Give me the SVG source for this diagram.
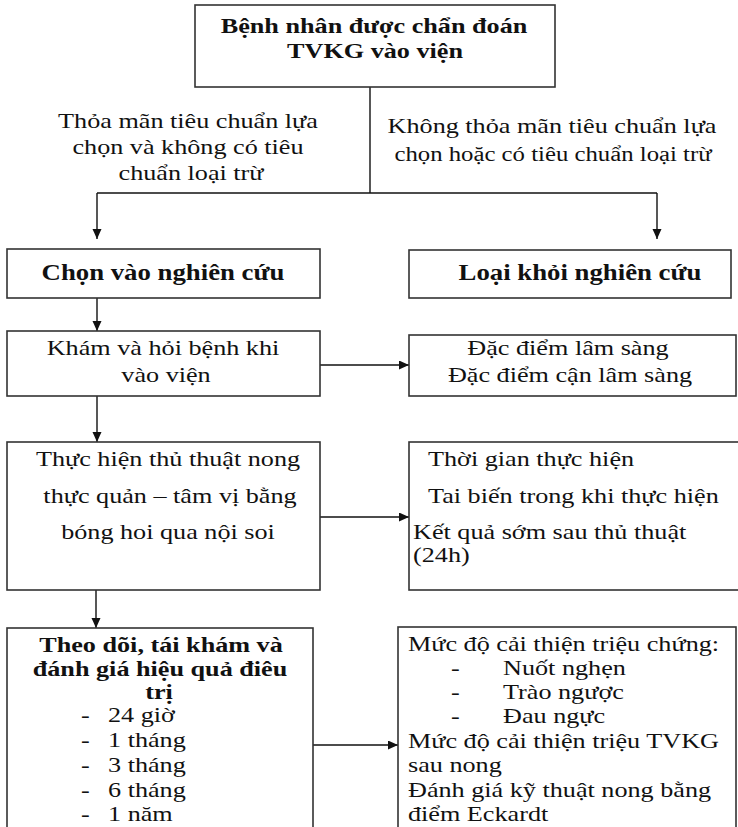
<svg xmlns="http://www.w3.org/2000/svg" width="738" height="827" viewBox="0 0 738 827">
<defs>
<marker id="ah" markerUnits="userSpaceOnUse" markerWidth="10" markerHeight="10" refX="10" refY="4.5" orient="auto">
<path d="M0,0 L10,4.5 L0,9 z" fill="#111"/>
</marker>
<style>
.box{fill:#fff;stroke:#333;stroke-width:1.6}
.c{fill:none;stroke:#111;stroke-width:1.4}
.a{marker-end:url(#ah)}
text{font-family:"Liberation Serif","Times New Roman",serif;font-size:22px;fill:#111}
.b{font-weight:bold}
.m{text-anchor:middle}
</style>
</defs>
<rect width="738" height="827" fill="#fff"/>

<g id="connectors">
<path class="c" d="M370,87 V193"/>
<path class="c" d="M97,193 H657"/>
<path class="c a" d="M97,193 V239"/>
<path class="c a" d="M657,193 V239"/>
<path class="c a" d="M97,298 V331"/>
<path class="c a" d="M320,365 H409"/>
<path class="c a" d="M97,396 V442"/>
<path class="c a" d="M320,517 H409"/>
<path class="c a" d="M96,590 V628"/>
<path class="c a" d="M313,745 H398"/>
</g>

<g id="n_start">
<rect class="box" x="195" y="5" width="360" height="82"/>
<text class="b m" transform="matrix(1.19 0 0 1 374 33)">Bệnh nhân được chẩn đoán</text>
<text class="b m" transform="matrix(1.19 0 0 1 375 58)">TVKG vào viện</text>
</g>

<g id="lbl_yes">
<text class="m" transform="matrix(1.19 0 0 1 188 128)">Thỏa mãn tiêu chuẩn lựa</text>
<text class="m" transform="matrix(1.19 0 0 1 188 154)">chọn và không có tiêu</text>
<text class="m" transform="matrix(1.19 0 0 1 191 180)">chuẩn loại trừ</text>
</g>

<g id="lbl_no">
<text class="m" transform="matrix(1.19 0 0 1 552 133)">Không thỏa mãn tiêu chuẩn lựa</text>
<text class="m" style="font-size:20.8px" transform="matrix(1.19 0 0 1 553 161)">chọn hoặc có tiêu chuẩn loại trừ</text>
</g>

<g id="n_chon">
<rect class="box" x="7" y="249" width="313" height="49"/>
<text class="b m" style="font-size:22.5px" transform="matrix(1.19 0 0 1 163 280)">Chọn vào nghiên cứu</text>
</g>

<g id="n_loai">
<rect class="box" x="409" y="250" width="322" height="48"/>
<text class="b m" style="font-size:22.5px" transform="matrix(1.19 0 0 1 580 280)">Loại khỏi nghiên cứu</text>
</g>

<g id="n_kham">
<rect class="box" x="7" y="331" width="313" height="65"/>
<text class="m" transform="matrix(1.19 0 0 1 163 355)">Khám và hỏi bệnh khi</text>
<text class="m" transform="matrix(1.19 0 0 1 166 382)">vào viện</text>
</g>

<g id="n_dacdiem">
<rect class="box" x="409" y="335" width="327" height="61"/>
<text class="m" transform="matrix(1.19 0 0 1 568 355)">Đặc điểm lâm sàng</text>
<text class="m" transform="matrix(1.19 0 0 1 570 382)">Đặc điểm cận lâm sàng</text>
</g>

<g id="n_thuchien">
<rect class="box" x="7" y="442" width="313" height="148"/>
<text class="m" transform="matrix(1.19 0 0 1 168 466)">Thực hiện thủ thuật nong</text>
<text class="m" transform="matrix(1.19 0 0 1 170 503)">thực quản – tâm vị bằng</text>
<text class="m" transform="matrix(1.19 0 0 1 168 539)">bóng hoi qua nội soi</text>
</g>

<g id="n_ketqua">
<rect class="box" x="409" y="442" width="340" height="148"/>
<text transform="matrix(1.19 0 0 1 428 466)">Thời gian thực hiện</text>
<text transform="matrix(1.19 0 0 1 428 503)">Tai biến trong khi thực hiện</text>
<text transform="matrix(1.19 0 0 1 413 539)">Kết quả sớm sau thủ thuật</text>
<text transform="matrix(1.19 0 0 1 413 562)">(24h)</text>
</g>

<g id="n_theodoi">
<rect class="box" x="7" y="628" width="306" height="220"/>
<text class="b m" transform="matrix(1.19 0 0 1 161 652)">Theo dõi, tái khám và</text>
<text class="b m" transform="matrix(1.19 0 0 1 160 676)">đánh giá hiệu quả điêu</text>
<text class="b m" transform="matrix(1.19 0 0 1 159 699)">trị</text>
<text transform="matrix(1.19 0 0 1 81 722)">-</text><text transform="matrix(1.19 0 0 1 108 722)">24 giờ</text>
<text transform="matrix(1.19 0 0 1 81 747)">-</text><text transform="matrix(1.19 0 0 1 108 747)">1 tháng</text>
<text transform="matrix(1.19 0 0 1 81 772)">-</text><text transform="matrix(1.19 0 0 1 108 772)">3 tháng</text>
<text transform="matrix(1.19 0 0 1 81 797)">-</text><text transform="matrix(1.19 0 0 1 108 797)">6 tháng</text>
<text transform="matrix(1.19 0 0 1 81 821)">-</text><text transform="matrix(1.19 0 0 1 108 821)">1 năm</text>
</g>

<g id="n_danhgia">
<rect class="box" x="398" y="627" width="338" height="220"/>
<text transform="matrix(1.19 0 0 1 408 651)">Mức độ cải thiện triệu chứng:</text>
<text transform="matrix(1.19 0 0 1 451 675)">-</text><text transform="matrix(1.19 0 0 1 503 675)">Nuốt nghẹn</text>
<text transform="matrix(1.19 0 0 1 451 699)">-</text><text transform="matrix(1.19 0 0 1 503 699)">Trào ngược</text>
<text transform="matrix(1.19 0 0 1 451 723)">-</text><text transform="matrix(1.19 0 0 1 503 723)">Đau ngực</text>
<text transform="matrix(1.19 0 0 1 408 748)">Mức độ cải thiện triệu TVKG</text>
<text transform="matrix(1.19 0 0 1 408 772)">sau nong</text>
<text transform="matrix(1.19 0 0 1 408 797)">Đánh giá kỹ thuật nong bằng</text>
<text transform="matrix(1.19 0 0 1 408 821)">điểm Eckardt</text>
</g>
</svg>
